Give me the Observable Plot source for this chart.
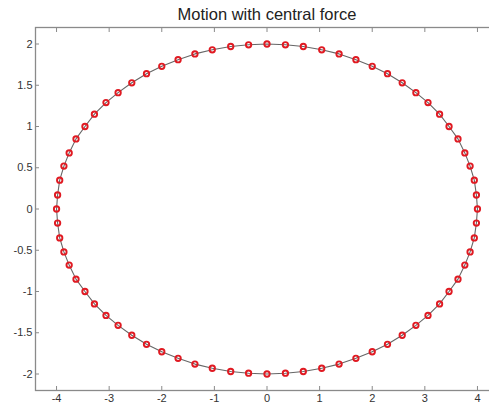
<!DOCTYPE html>
<html>
<head>
<meta charset="utf-8">
<script src="https://cdn.jsdelivr.net/npm/d3@7"></script>
<script src="https://cdn.jsdelivr.net/npm/@observablehq/plot@0.6"></script>
<style>
  html, body { margin: 0; padding: 0; background: #fff; overflow: hidden; }
  #chart svg { display: block; max-width: none !important; height: 407px !important; }
</style>
</head>
<body>
<div id="chart"></div>
<script>
// Sampled positions of the orbiting body (counter-clockwise, starting at the +x end)
const xs = [
  4.00, 3.98, 3.94, 3.86, 3.76, 3.63, 3.46, 3.28, 3.06, 2.83, 2.57, 2.29, 2.00, 1.69, 1.37, 1.04, 0.69, 0.35, 0.00,
  -0.35, -0.69, -1.04, -1.37, -1.69, -2.00, -2.29, -2.57, -2.83, -3.06, -3.28, -3.46, -3.63, -3.76, -3.86, -3.94, -3.98, -4.00,
  -3.98, -3.94, -3.86, -3.76, -3.63, -3.46, -3.28, -3.06, -2.83, -2.57, -2.29, -2.00, -1.69, -1.37, -1.04, -0.69, -0.35, 0.00,
  0.35, 0.69, 1.04, 1.37, 1.69, 2.00, 2.29, 2.57, 2.83, 3.06, 3.28, 3.46, 3.63, 3.76, 3.86, 3.94, 3.98
];
const ys = [
  0.00, 0.17, 0.35, 0.52, 0.68, 0.85, 1.00, 1.15, 1.29, 1.41, 1.53, 1.64, 1.73, 1.81, 1.88, 1.93, 1.97, 1.99, 2.00,
  1.99, 1.97, 1.93, 1.88, 1.81, 1.73, 1.64, 1.53, 1.41, 1.29, 1.15, 1.00, 0.85, 0.68, 0.52, 0.35, 0.17, 0.00,
  -0.17, -0.35, -0.52, -0.68, -0.85, -1.00, -1.15, -1.29, -1.41, -1.53, -1.64, -1.73, -1.81, -1.88, -1.93, -1.97, -1.99, -2.00,
  -1.99, -1.97, -1.93, -1.88, -1.81, -1.73, -1.64, -1.53, -1.41, -1.29, -1.15, -1.00, -0.85, -0.68, -0.52, -0.35, -0.17
];
const xTicks = [-4, -3, -2, -1, 0, 1, 2, 3, 4];
const yTicks = [-2, -1.5, -1, -0.5, 0, 0.5, 1, 1.5, 2];
const xLimits = [-4.4, 4.4];
const yLimits = [-2.2, 2.2];
const title = "Motion with central force";

const points = xs.map((x, i) => ({x, y: ys[i]}));
const path = points.concat([points[0]]); // closed orbit

const axisColor = "#8a8a8a";
const labelColor = "#333";
const fmt = d => String(d);

const chart = Plot.plot({
  width: 498,
  height: 407,
  marginTop: 27,
  marginBottom: 17,
  marginLeft: 35,
  marginRight: 0,
  style: {fontFamily: "'Liberation Sans', Arial, sans-serif", fontSize: "11px", background: "#fff"},
  x: {domain: xLimits, label: null},
  y: {domain: yLimits, label: null},
  marks: [
    Plot.frame({stroke: axisColor, strokeWidth: 1.3}),
    Plot.axisX({ticks: xTicks, tickFormat: fmt, tickSize: -4, tickPadding: 8, stroke: axisColor, color: labelColor}),
    Plot.axisX({anchor: "top", ticks: xTicks, tickFormat: () => "", tickSize: -4, stroke: axisColor}),
    Plot.axisY({ticks: yTicks, tickFormat: fmt, tickSize: -4, tickPadding: 7, stroke: axisColor, color: labelColor}),
    Plot.line(path, {x: "x", y: "y", stroke: "#666", strokeWidth: 1.1}),
    Plot.dot(points, {x: "x", y: "y", r: 2.7, stroke: "#e01a22", strokeWidth: 1.9, fill: "none"}),
    Plot.text([title], {frameAnchor: "top", dy: -8, lineAnchor: "bottom", fontSize: 16.5, fill: "#222"})
  ]
});
document.getElementById("chart").append(chart);
</script>
</body>
</html>
